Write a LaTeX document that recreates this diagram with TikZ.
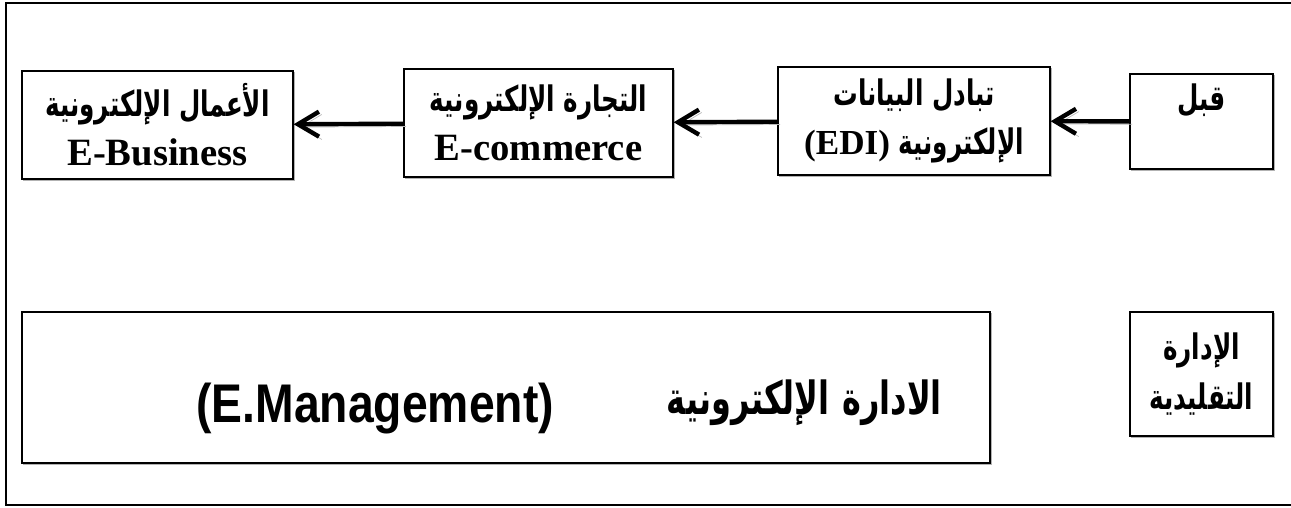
\documentclass[tikz,border=0pt]{standalone}
\usepackage{fontspec}
\usepackage{tikz}
\usetikzlibrary{arrows.meta}
\TeXXeTstate=1
\newfontfamily\arabicfont[Script=Arabic, FakeStretch=0.7]{DejaVu Sans}
\newfontfamily\latinserif{Liberation Serif}
\newfontfamily\latinsans[FakeStretch=0.85]{Liberation Sans}
\newcommand{\artext}[1]{{\arabicfont\bfseries\fontsize{20pt}{28pt}\selectfont\beginR #1\endR}}
\newcommand{\entext}[1]{{\latinserif\bfseries #1}}
\tikzset{my_diagram/.style={x=0.02cm,y=-0.02cm}}
\tikzset{my_box/.style={draw, thick, fill=white, inner sep=0pt, align=center,
    font=\fontsize{22pt}{28pt}\selectfont,
    preaction={draw=gray!60, thick, transform canvas={shift={(0.7pt,-0.7pt)}}}}}
\tikzset{my_arrow/.style={-{Straight Barb[length=0.42cm,width=0.5cm]}, line width=2.5pt,
    preaction={draw=gray!55, transform canvas={shift={(1.6pt,-1.6pt)}}}}}

\begin{document}
\begin{tikzpicture}[my_diagram]
    \useasboundingbox (0,0) rectangle (1291,507);
    %\draw[help lines, step=50] (0,0) grid (1291,507);
    \draw[line width=1.2pt] (1291,3) -- (6,3) -- (6,505) -- (1291,505);

    \node[my_box, minimum width=5.42cm, minimum height=2.16cm] (bus) at (157.5,125)
        {\artext{الأعمال الإلكترونية}\\\entext{E-Business}};
    \node[my_box, minimum width=5.38cm, minimum height=2.16cm] (com) at (538.5,123)
        {\artext{التجارة الإلكترونية}\\\entext{E-commerce}};
    \node[my_box, minimum width=5.44cm, minimum height=2.16cm] (edi) at (914,121)
        {\artext{تبادل البيانات}\\{\arabicfont\bfseries\fontsize{20pt}{28pt}\selectfont\beginR الإلكترونية \beginL\entext{(EDI)}\endL\endR}};
    \node[my_box, minimum width=2.86cm, minimum height=1.9cm] (qabl) at (1201.5,121.5)
        {\artext{قبل}\\\mbox{}};

    \node[my_box, minimum height=3.02cm, text width=17.44cm, inner xsep=0.96cm, align=right,
          text height=1.5cm, text depth=0.08cm] (emgmt) at (506,387.5)
        {{\latinsans\bfseries\fontsize{31pt}{34pt}\selectfont (E.Management)}\hspace{2.26cm}%
         \raisebox{0.18cm}{\arabicfont\bfseries\fontsize{26pt}{30pt}\selectfont\beginR الادارة الإلكترونية\endR}};
    \node[my_box, minimum width=2.86cm, minimum height=2.48cm] (trad) at (1201.5,374)
        {\artext{الإدارة}\\\artext{التقليدية}};

    \path
        (qabl) edge [my_arrow] (edi)
        (edi) edge [my_arrow] (com)
        (com) edge [my_arrow] (bus)
    ;
\end{tikzpicture}
\end{document}
